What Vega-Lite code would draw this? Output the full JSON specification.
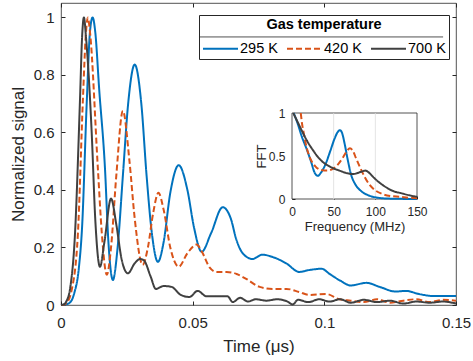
{
  "$schema": "https://vega.github.io/schema/vega-lite/v6.json",
  "width": 395,
  "height": 302,
  "autosize": {"type": "none"},
  "padding": {"left": 61, "top": 3, "right": 17, "bottom": 56},
  "background": "white",
  "config": {
    "font": "Liberation Sans",
    "view": {"stroke": "#262626", "strokeWidth": 0.8},
    "axis": {"grid": false, "domain": false, "labelFlush": false, "tickColor": "#262626", "labelColor": "#262626", "titleColor": "#262626", "titleFontWeight": "normal", "labelFont": "Liberation Sans", "titleFont": "Liberation Sans"}
  },
  "datasets": {
    "main": [
      {"series": "295 K", "t": 0, "v": 0},
      {"series": "295 K", "t": 0.001, "v": 0.001},
      {"series": "295 K", "t": 0.003, "v": 0.006},
      {"series": "295 K", "t": 0.005, "v": 0.04},
      {"series": "295 K", "t": 0.0068, "v": 0.13},
      {"series": "295 K", "t": 0.008, "v": 0.27},
      {"series": "295 K", "t": 0.0098, "v": 0.71},
      {"series": "295 K", "t": 0.011, "v": 0.95},
      {"series": "295 K", "t": 0.012, "v": 1.0},
      {"series": "295 K", "t": 0.013, "v": 0.95},
      {"series": "295 K", "t": 0.0145, "v": 0.75},
      {"series": "295 K", "t": 0.0167, "v": 0.475},
      {"series": "295 K", "t": 0.018, "v": 0.22},
      {"series": "295 K", "t": 0.0197, "v": 0.087},
      {"series": "295 K", "t": 0.0215, "v": 0.2},
      {"series": "295 K", "t": 0.0235, "v": 0.45},
      {"series": "295 K", "t": 0.0255, "v": 0.7},
      {"series": "295 K", "t": 0.028, "v": 0.836},
      {"series": "295 K", "t": 0.0305, "v": 0.7},
      {"series": "295 K", "t": 0.0325, "v": 0.45},
      {"series": "295 K", "t": 0.0345, "v": 0.25},
      {"series": "295 K", "t": 0.0368, "v": 0.15},
      {"series": "295 K", "t": 0.039, "v": 0.22},
      {"series": "295 K", "t": 0.0415, "v": 0.39},
      {"series": "295 K", "t": 0.0447, "v": 0.486},
      {"series": "295 K", "t": 0.048, "v": 0.4},
      {"series": "295 K", "t": 0.0505, "v": 0.27},
      {"series": "295 K", "t": 0.0534, "v": 0.185},
      {"series": "295 K", "t": 0.057, "v": 0.25},
      {"series": "295 K", "t": 0.0614, "v": 0.34},
      {"series": "295 K", "t": 0.0645, "v": 0.3},
      {"series": "295 K", "t": 0.0665, "v": 0.23},
      {"series": "295 K", "t": 0.069, "v": 0.18},
      {"series": "295 K", "t": 0.0727, "v": 0.16},
      {"series": "295 K", "t": 0.0765, "v": 0.175},
      {"series": "295 K", "t": 0.08, "v": 0.168},
      {"series": "295 K", "t": 0.0855, "v": 0.145},
      {"series": "295 K", "t": 0.0905, "v": 0.115},
      {"series": "295 K", "t": 0.0945, "v": 0.122},
      {"series": "295 K", "t": 0.099, "v": 0.126},
      {"series": "295 K", "t": 0.102, "v": 0.108},
      {"series": "295 K", "t": 0.106, "v": 0.085},
      {"series": "295 K", "t": 0.11, "v": 0.068},
      {"series": "295 K", "t": 0.116, "v": 0.077},
      {"series": "295 K", "t": 0.121, "v": 0.063},
      {"series": "295 K", "t": 0.127, "v": 0.047},
      {"series": "295 K", "t": 0.131, "v": 0.049},
      {"series": "295 K", "t": 0.136, "v": 0.038},
      {"series": "295 K", "t": 0.142, "v": 0.031},
      {"series": "295 K", "t": 0.15, "v": 0.031},
      {"series": "420 K", "t": 0, "v": 0},
      {"series": "420 K", "t": 0.001, "v": 0.001},
      {"series": "420 K", "t": 0.002, "v": 0.006},
      {"series": "420 K", "t": 0.004, "v": 0.05},
      {"series": "420 K", "t": 0.0064, "v": 0.245},
      {"series": "420 K", "t": 0.0083, "v": 0.71},
      {"series": "420 K", "t": 0.0095, "v": 0.95},
      {"series": "420 K", "t": 0.0102, "v": 1.0},
      {"series": "420 K", "t": 0.011, "v": 0.95},
      {"series": "420 K", "t": 0.014, "v": 0.475},
      {"series": "420 K", "t": 0.0155, "v": 0.25},
      {"series": "420 K", "t": 0.0174, "v": 0.105},
      {"series": "420 K", "t": 0.019, "v": 0.2},
      {"series": "420 K", "t": 0.021, "v": 0.45},
      {"series": "420 K", "t": 0.0235, "v": 0.675},
      {"series": "420 K", "t": 0.026, "v": 0.5},
      {"series": "420 K", "t": 0.028, "v": 0.3},
      {"series": "420 K", "t": 0.031, "v": 0.14},
      {"series": "420 K", "t": 0.033, "v": 0.2},
      {"series": "420 K", "t": 0.035, "v": 0.32},
      {"series": "420 K", "t": 0.037, "v": 0.39},
      {"series": "420 K", "t": 0.039, "v": 0.33},
      {"series": "420 K", "t": 0.0415, "v": 0.2},
      {"series": "420 K", "t": 0.0447, "v": 0.133},
      {"series": "420 K", "t": 0.048, "v": 0.18},
      {"series": "420 K", "t": 0.0515, "v": 0.21},
      {"series": "420 K", "t": 0.0535, "v": 0.185},
      {"series": "420 K", "t": 0.0565, "v": 0.13},
      {"series": "420 K", "t": 0.0591, "v": 0.115},
      {"series": "420 K", "t": 0.0629, "v": 0.115},
      {"series": "420 K", "t": 0.0667, "v": 0.108},
      {"series": "420 K", "t": 0.0705, "v": 0.09},
      {"series": "420 K", "t": 0.0754, "v": 0.063},
      {"series": "420 K", "t": 0.0803, "v": 0.056},
      {"series": "420 K", "t": 0.0856, "v": 0.056},
      {"series": "420 K", "t": 0.0905, "v": 0.045},
      {"series": "420 K", "t": 0.0943, "v": 0.035},
      {"series": "420 K", "t": 0.1008, "v": 0.038},
      {"series": "420 K", "t": 0.1057, "v": 0.02},
      {"series": "420 K", "t": 0.11, "v": 0.015},
      {"series": "420 K", "t": 0.115, "v": 0.01},
      {"series": "420 K", "t": 0.12, "v": 0.02},
      {"series": "420 K", "t": 0.125, "v": 0.008},
      {"series": "420 K", "t": 0.13, "v": 0.015},
      {"series": "420 K", "t": 0.135, "v": 0.02},
      {"series": "420 K", "t": 0.14, "v": 0.01},
      {"series": "420 K", "t": 0.145, "v": 0.018},
      {"series": "420 K", "t": 0.15, "v": 0.015},
      {"series": "700 K", "t": 0, "v": 0},
      {"series": "700 K", "t": 0.001, "v": 0.002},
      {"series": "700 K", "t": 0.002, "v": 0.012},
      {"series": "700 K", "t": 0.0035, "v": 0.06},
      {"series": "700 K", "t": 0.0053, "v": 0.245},
      {"series": "700 K", "t": 0.0072, "v": 0.71},
      {"series": "700 K", "t": 0.008, "v": 0.93},
      {"series": "700 K", "t": 0.0087, "v": 1.0},
      {"series": "700 K", "t": 0.0095, "v": 0.93},
      {"series": "700 K", "t": 0.0117, "v": 0.59},
      {"series": "700 K", "t": 0.013, "v": 0.3},
      {"series": "700 K", "t": 0.0148, "v": 0.133},
      {"series": "700 K", "t": 0.0165, "v": 0.22},
      {"series": "700 K", "t": 0.019, "v": 0.37},
      {"series": "700 K", "t": 0.021, "v": 0.28},
      {"series": "700 K", "t": 0.023, "v": 0.16},
      {"series": "700 K", "t": 0.0254, "v": 0.11},
      {"series": "700 K", "t": 0.028, "v": 0.145},
      {"series": "700 K", "t": 0.03, "v": 0.16},
      {"series": "700 K", "t": 0.0315, "v": 0.155},
      {"series": "700 K", "t": 0.034, "v": 0.1},
      {"series": "700 K", "t": 0.036, "v": 0.056},
      {"series": "700 K", "t": 0.039, "v": 0.066},
      {"series": "700 K", "t": 0.042, "v": 0.063},
      {"series": "700 K", "t": 0.0455, "v": 0.035},
      {"series": "700 K", "t": 0.0488, "v": 0.028},
      {"series": "700 K", "t": 0.0519, "v": 0.049},
      {"series": "700 K", "t": 0.0553, "v": 0.03},
      {"series": "700 K", "t": 0.059, "v": 0.03},
      {"series": "700 K", "t": 0.0633, "v": 0.03},
      {"series": "700 K", "t": 0.0652, "v": 0.01},
      {"series": "700 K", "t": 0.068, "v": 0.025},
      {"series": "700 K", "t": 0.071, "v": 0.012},
      {"series": "700 K", "t": 0.074, "v": 0.02},
      {"series": "700 K", "t": 0.078, "v": 0.015},
      {"series": "700 K", "t": 0.082, "v": 0.02},
      {"series": "700 K", "t": 0.086, "v": 0.012},
      {"series": "700 K", "t": 0.088, "v": 0.002},
      {"series": "700 K", "t": 0.09, "v": 0.018},
      {"series": "700 K", "t": 0.094, "v": 0.01},
      {"series": "700 K", "t": 0.098, "v": 0.02},
      {"series": "700 K", "t": 0.102, "v": 0.012},
      {"series": "700 K", "t": 0.106, "v": 0.02},
      {"series": "700 K", "t": 0.11, "v": 0.008},
      {"series": "700 K", "t": 0.115, "v": 0.018},
      {"series": "700 K", "t": 0.12, "v": 0.01},
      {"series": "700 K", "t": 0.125, "v": 0.015},
      {"series": "700 K", "t": 0.13, "v": 0.005},
      {"series": "700 K", "t": 0.135, "v": 0.012},
      {"series": "700 K", "t": 0.14, "v": 0.008},
      {"series": "700 K", "t": 0.145, "v": 0.012},
      {"series": "700 K", "t": 0.15, "v": 0.005}
    ],
    "fft": [
      {"series": "295 K", "f": 2, "fv": 1.0},
      {"series": "295 K", "f": 6, "fv": 0.9},
      {"series": "295 K", "f": 12, "fv": 0.72},
      {"series": "295 K", "f": 18, "fv": 0.57},
      {"series": "295 K", "f": 23, "fv": 0.43},
      {"series": "295 K", "f": 27, "fv": 0.31},
      {"series": "295 K", "f": 31, "fv": 0.27},
      {"series": "295 K", "f": 35, "fv": 0.31},
      {"series": "295 K", "f": 40, "fv": 0.4},
      {"series": "295 K", "f": 46, "fv": 0.56},
      {"series": "295 K", "f": 51, "fv": 0.7},
      {"series": "295 K", "f": 55, "fv": 0.78},
      {"series": "295 K", "f": 57.5, "fv": 0.8},
      {"series": "295 K", "f": 60, "fv": 0.77},
      {"series": "295 K", "f": 63, "fv": 0.65},
      {"series": "295 K", "f": 67, "fv": 0.45},
      {"series": "295 K", "f": 71, "fv": 0.28},
      {"series": "295 K", "f": 76, "fv": 0.17},
      {"series": "295 K", "f": 82, "fv": 0.1},
      {"series": "295 K", "f": 90, "fv": 0.05},
      {"series": "295 K", "f": 100, "fv": 0.02},
      {"series": "295 K", "f": 115, "fv": 0.005},
      {"series": "295 K", "f": 150, "fv": 0.0},
      {"series": "420 K", "f": 10.5, "fv": 1.0},
      {"series": "420 K", "f": 12, "fv": 0.88},
      {"series": "420 K", "f": 14, "fv": 0.77},
      {"series": "420 K", "f": 17, "fv": 0.62},
      {"series": "420 K", "f": 22, "fv": 0.47},
      {"series": "420 K", "f": 28, "fv": 0.38},
      {"series": "420 K", "f": 34, "fv": 0.34},
      {"series": "420 K", "f": 42, "fv": 0.33},
      {"series": "420 K", "f": 49, "fv": 0.35},
      {"series": "420 K", "f": 55, "fv": 0.4},
      {"series": "420 K", "f": 61, "fv": 0.48},
      {"series": "420 K", "f": 66, "fv": 0.56},
      {"series": "420 K", "f": 69.5, "fv": 0.59},
      {"series": "420 K", "f": 73, "fv": 0.56},
      {"series": "420 K", "f": 77, "fv": 0.47},
      {"series": "420 K", "f": 82, "fv": 0.36},
      {"series": "420 K", "f": 87, "fv": 0.26},
      {"series": "420 K", "f": 92, "fv": 0.18},
      {"series": "420 K", "f": 100, "fv": 0.1},
      {"series": "420 K", "f": 108, "fv": 0.06},
      {"series": "420 K", "f": 118, "fv": 0.035},
      {"series": "420 K", "f": 130, "fv": 0.025},
      {"series": "420 K", "f": 140, "fv": 0.015},
      {"series": "420 K", "f": 150, "fv": 0.01},
      {"series": "700 K", "f": 1.5, "fv": 1.0},
      {"series": "700 K", "f": 5, "fv": 0.93},
      {"series": "700 K", "f": 9, "fv": 0.85},
      {"series": "700 K", "f": 13, "fv": 0.77},
      {"series": "700 K", "f": 19, "fv": 0.66},
      {"series": "700 K", "f": 25, "fv": 0.57},
      {"series": "700 K", "f": 31, "fv": 0.49},
      {"series": "700 K", "f": 37, "fv": 0.43},
      {"series": "700 K", "f": 43, "fv": 0.39},
      {"series": "700 K", "f": 49, "fv": 0.36},
      {"series": "700 K", "f": 57, "fv": 0.33},
      {"series": "700 K", "f": 66, "fv": 0.3},
      {"series": "700 K", "f": 73, "fv": 0.29},
      {"series": "700 K", "f": 78, "fv": 0.3},
      {"series": "700 K", "f": 84, "fv": 0.32},
      {"series": "700 K", "f": 88, "fv": 0.33},
      {"series": "700 K", "f": 92, "fv": 0.31},
      {"series": "700 K", "f": 97, "fv": 0.26},
      {"series": "700 K", "f": 105, "fv": 0.19},
      {"series": "700 K", "f": 114, "fv": 0.13},
      {"series": "700 K", "f": 122, "fv": 0.09},
      {"series": "700 K", "f": 130, "fv": 0.07},
      {"series": "700 K", "f": 140, "fv": 0.045},
      {"series": "700 K", "f": 150, "fv": 0.025}
    ]
  },
  "layer": [
    {
      "layer": [
        {
          "data": {"name": "main"},
          "mark": {"type": "line", "interpolate": "monotone", "strokeWidth": 2},
          "encoding": {
            "x": {"field": "t", "type": "quantitative", "scale": {"domain": [0, 0.15], "nice": false, "zero": false},
                  "axis": {"values": [0, 0.05, 0.1, 0.15], "format": ".2~g", "title": "Time (μs)", "tickSize": -4, "labelPadding": 14, "labelFontSize": 15, "titleFontSize": 17, "titlePadding": 8}},
            "y": {"field": "v", "type": "quantitative", "scale": {"domain": [0, 1.05], "nice": false},
                  "axis": {"values": [0, 0.2, 0.4, 0.6, 0.8, 1], "format": ".1~f", "title": "Normalized signal", "tickSize": -4, "labelPadding": 11, "labelFontSize": 15, "titleFontSize": 17, "titlePadding": 6}},
            "color": {"field": "series", "type": "nominal",
                      "scale": {"domain": ["295 K", "420 K", "700 K"], "range": ["#0072BD", "#D95319", "#404040"]},
                      "legend": {"title": "Gas temperature", "orient": "none", "legendX": 138, "legendY": 12, "direction": "horizontal",
                                 "titleAnchor": "middle", "titleFontWeight": "bold", "titleFontSize": 14.5, "titleColor": "#000000",
                                 "labelFontSize": 14.5, "labelColor": "#000000", "symbolType": "M-2.5,0H2.5", "symbolSize": 196, "symbolStrokeWidth": 2,
                                 "symbolOffset": 10.5, "labelOffset": 11.5,
                                 "strokeColor": "#262626", "padding": 3, "columnPadding": 5, "titlePadding": 8}},
            "strokeDash": {"field": "series", "type": "nominal",
                           "scale": {"domain": ["295 K", "420 K", "700 K"], "range": [[1, 0], [6, 3], [1, 0]]}}
          }
        },
        {
          "data": {"name": "main"},
          "mark": {"type": "line", "opacity": 0},
          "encoding": {
            "x": {"field": "t", "type": "quantitative", "axis": {"orient": "top", "values": [0, 0.05, 0.1, 0.15], "labels": false, "title": null, "tickSize": -4}},
            "y": {"field": "v", "type": "quantitative", "axis": {"orient": "right", "values": [0, 0.2, 0.4, 0.6, 0.8, 1], "labels": false, "title": null, "tickSize": -4}}
          }
        },
        {
          "data": {"values": [{"k": 1}]},
          "mark": {"type": "rule", "color": "#262626", "strokeWidth": 0.8},
          "encoding": {
            "x": {"datum": 0.0524, "type": "quantitative", "axis": null},
            "x2": {"datum": 0.1451},
            "y": {"datum": 0.932, "type": "quantitative", "axis": null}
          }
        }
      ],
      "resolve": {"axis": {"x": "independent", "y": "independent"}}
    },
    {
      "layer": [
        {
          "data": {"values": [{"k": 1}]},
          "mark": {"type": "rect", "fill": "#ffffff", "stroke": "#262626", "strokeWidth": 0.8},
          "encoding": {
            "x": {"datum": 0, "type": "quantitative"},
            "x2": {"datum": 150},
            "y": {"datum": 0, "type": "quantitative"},
            "y2": {"datum": 1}
          }
        },
        {
          "data": {"values": [{"f": 50}, {"f": 100}]},
          "mark": {"type": "rule", "color": "#dcdcdc", "strokeWidth": 0.8},
          "encoding": {
            "x": {"field": "f", "type": "quantitative"},
            "y": {"datum": 0, "type": "quantitative"},
            "y2": {"datum": 1}
          }
        },
        {
          "data": {"name": "fft"},
          "mark": {"type": "line", "interpolate": "monotone", "strokeWidth": 2},
          "encoding": {
            "x": {"field": "f", "type": "quantitative", "scale": {"domain": [0, 150], "range": [231, 356], "nice": false},
                  "axis": {"orient": "bottom", "offset": -106, "values": [0, 50, 100, 150], "format": "d", "title": "Frequency (MHz)", "tickSize": -3, "labelPadding": 10, "labelFontSize": 12, "titleFontSize": 13, "titlePadding": 3}},
            "y": {"field": "fv", "type": "quantitative", "scale": {"domain": [0, 1], "range": [196, 110], "nice": false},
                  "axis": {"orient": "left", "offset": -231, "values": [0, 0.5, 1], "format": ".1~f", "title": "FFT", "tickSize": -3, "labelPadding": 10, "labelFontSize": 12, "titleFontSize": 13, "titlePadding": 0}},
            "color": {"field": "series", "type": "nominal", "legend": null},
            "strokeDash": {"field": "series", "type": "nominal", "legend": null}
          }
        }
      ]
    }
  ],
  "resolve": {"scale": {"x": "independent", "y": "independent"}, "axis": {"x": "independent", "y": "independent"}}
}
